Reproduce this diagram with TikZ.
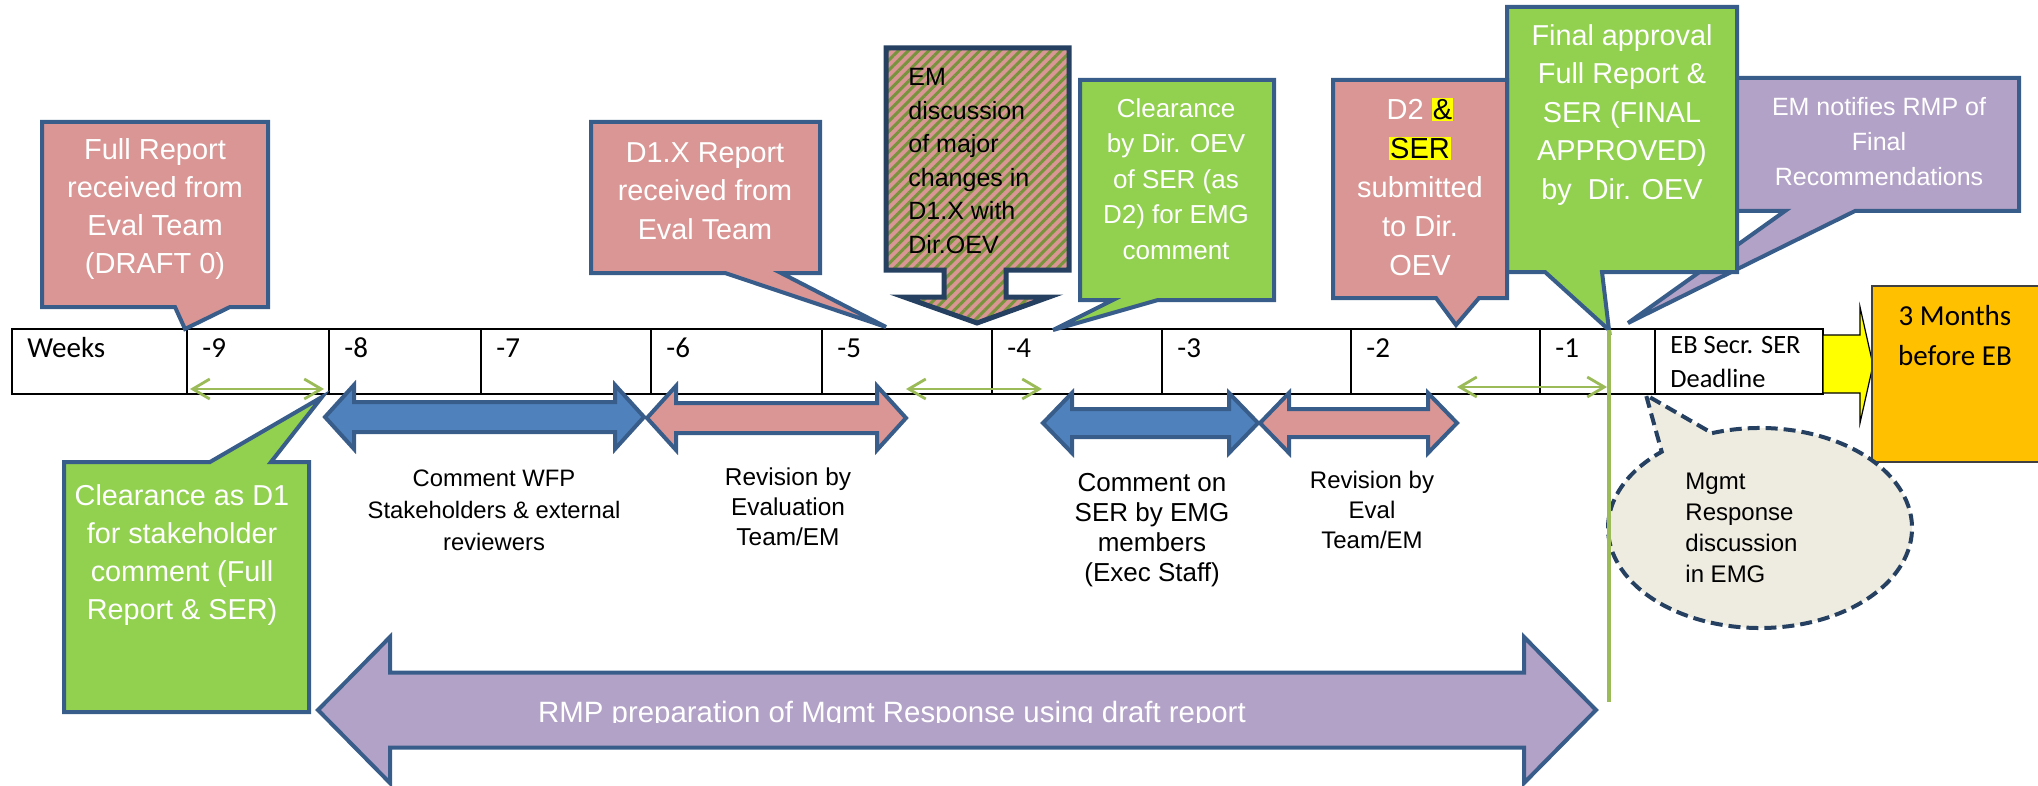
\documentclass[tikz,border=0pt]{standalone}
\usepackage{fontspec}
\setmainfont{Liberation Sans}
\newfontfamily\calibri{Carlito}
\usetikzlibrary{arrows.meta, positioning, calc, patterns.meta}

\definecolor{calloutpink}{RGB}{217,150,148}
\definecolor{calloutgreen}{RGB}{146,208,80}
\definecolor{calloutpurple}{RGB}{179,162,199}
\definecolor{shapeblue}{RGB}{79,129,189}
\definecolor{edgeblue}{RGB}{56,93,138}
\definecolor{edgenavy}{RGB}{37,64,97}
\definecolor{stripegreen}{RGB}{119,147,60}
\definecolor{spangreen}{RGB}{155,187,89}
\definecolor{noteback}{RGB}{238,236,225}
\definecolor{ebyellow}{RGB}{255,255,0}
\definecolor{eborange}{RGB}{255,192,0}

\newcommand\setfs[2]{\fontsize{#1}{#2}\selectfont}
\newcommand\hilite[1]{{\setlength\fboxsep{0.6pt}\colorbox{ebyellow}{\textcolor{black}{#1}}}}

% double headed block arrow: style, left tip, right tip, centre y, shaft half, head half, head length
\newcommand\blockarrow[7]{%
  \draw[#1] (#2,#4) -- (#2+#7,#4-#6) -- (#2+#7,#4-#5) -- (#3-#7,#4-#5)
    -- (#3-#7,#4-#6) -- (#3,#4) -- (#3-#7,#4+#6) -- (#3-#7,#4+#5)
    -- (#2+#7,#4+#5) -- (#2+#7,#4+#6) -- cycle;}

\tikzset{
  weekcell/.style={draw=black, line width=1pt, fill=white},
  celltext/.style={anchor=base west, inner sep=0pt, font=\calibri\setfs{14.5}{17}},
  callbox/.style={line width=2pt, draw=edgeblue, line join=miter},
  pinkcall/.style={callbox, fill=calloutpink},
  greencall/.style={callbox, fill=calloutgreen},
  purplecall/.style={callbox, fill=calloutpurple},
  calltext/.style={text=white, align=center, inner sep=0pt},
  blockblue/.style={line width=2pt, draw=edgeblue, fill=shapeblue},
  blockpink/.style={line width=2pt, draw=edgeblue, fill=calloutpink},
  blockpurple/.style={line width=2pt, draw=edgeblue, fill=calloutpurple},
  phaselabel/.style={align=center, inner sep=0pt},
  weekspan/.style={draw=spangreen, line width=1.4pt,
    {Straight Barb[length=8.5pt,width=10pt]}-{Straight Barb[length=8.5pt,width=10pt]}},
}

\begin{document}
\begin{tikzpicture}[x=0.5pt, y=-0.5pt]
\useasboundingbox (0,0) rectangle (2038,786);

% week row
\foreach \lab/\xa/\xb/\nm in {Weeks/12/187/wk, -9/187/329/m9, -8/329/481/m8,
    -7/481/651/m7, -6/651/822/m6, -5/822/992/m5, -4/992/1162/m4,
    -3/1162/1351/m3, -2/1351/1540/m2, -1/1540/1655/m1}{
  \draw[weekcell] (\xa,329) rectangle (\xb,394);
  \node[celltext] (\nm) at (\xa+15,357) {\lab};
}
\draw[weekcell] (1655,329) rectangle (1823,394);
\node[celltext, font=\calibri\setfs{13.2}{17}, align=left, anchor=west] (ebdl) at (1670,362) {EB Secr. SER\\Deadline};

% gaps between phases
\coordinate (gapAl) at (190,389);  \coordinate (gapAr) at (324,389);
\coordinate (gapBl) at (906,389);  \coordinate (gapBr) at (1042,389);
\coordinate (gapCl) at (1457,387); \coordinate (gapCr) at (1607,387);
\draw[weekspan] (gapAl) -- (gapAr);
\draw[weekspan] (gapBl) -- (gapBr);
\draw[weekspan] (gapCl) -- (gapCr);

% milestones above the row
\coordinate (notifytip) at (1628,323);
\draw[purplecall] (1725,78) -- (2019,78) -- (2019,211) -- (1855,211) -- (notifytip) -- (1785,211) -- (1725,211) -- cycle;
\node[calltext, font=\setfs{12.5}{17.5}] (notify) at (1879,142) {EM notifies RMP of\\Final\\Recommendations};

\coordinate (finaltip) at (1609,330);
\draw[greencall] (1507,7) -- (1737,7) -- (1737,272) -- (1602,272) -- (finaltip) -- (1545,272) -- (1507,272) -- cycle;
\node[calltext, font=\setfs{14.4}{19.25}] (final) at (1622,115) {Final approval\\Full Report \&\\SER (FINAL\\APPROVED)\\by\ \ Dir. OEV};

\coordinate (draft0tip) at (185,329);
\draw[pinkcall] (42,122) -- (268,122) -- (268,307) -- (230,307) -- (draft0tip) -- (175,307) -- (42,307) -- cycle;
\node[calltext, font=\setfs{14.5}{19}] (draft0) at (155,209) {Full Report\\received from\\Eval Team\\(DRAFT 0)};

\coordinate (d1xtip) at (886,327);
\draw[pinkcall] (591,122) -- (820,122) -- (820,273) -- (781,273) -- (d1xtip) -- (725,273) -- (591,273) -- cycle;
\node[calltext, font=\setfs{14.4}{19.25}] (d1x) at (705,191) {D1.X Report\\received from\\Eval Team};

\draw[line width=2.5pt, draw=edgenavy, preaction={fill=calloutpink},
      pattern={Lines[angle=45, distance=3.6pt, line width=1.5pt]}, pattern color=stripegreen]
  (886,48) -- (1069,48) -- (1069,270) -- (1006,270) -- (1006,297) -- (1049,297) -- (977,323)
  -- (904,297) -- (944,297) -- (944,270) -- (886,270) -- cycle;
\node[anchor=west, align=left, inner sep=0pt, font=\setfs{12.5}{16.8}] (emdisc) at (908,161) {EM\\discussion\\of major\\changes in\\D1.X with\\Dir.OEV};

\coordinate (cleartip) at (1053,330);
\draw[greencall] (1080,80) -- (1274,80) -- (1274,300) -- (1158,300) -- (cleartip) -- (1113,300) -- (1080,300) -- cycle;
\node[calltext, font=\setfs{13}{17.75}] (clear) at (1176,179) {Clearance\\by Dir. OEV\\of SER (as\\D2) for EMG\\comment};

\coordinate (d2tip) at (1456,325);
\draw[pinkcall] (1333,80) -- (1507,80) -- (1507,298) -- (1479,298) -- (d2tip) -- (1436,298) -- (1333,298) -- cycle;
\node[calltext, font=\setfs{14.5}{19.5}] (d2) at (1420,187) {D2 \hilite{\&}\\\hilite{SER}\\submitted\\to Dir.\\OEV};

% board deadline
\draw[fill=ebyellow, draw=black, line width=0.6pt] (1823,335) -- (1860,335) -- (1860,307) -- (1873,365)
  -- (1860,423) -- (1860,393) -- (1823,393) -- cycle;
\draw[fill=eborange, draw=black!75, line width=1pt] (1872,286) rectangle (2045,462);
\node[font=\calibri\setfs{14.5}{20}, align=center] (threemonths) at (1955,336) {3 Months\\before EB};

% phases below the row
\blockarrow{blockblue}{325}{644}{417}{15}{32}{29}
\blockarrow{blockpink}{647}{906}{418}{15}{32}{29}
\blockarrow{blockblue}{1043}{1258}{423}{14}{30}{29}
\blockarrow{blockpink}{1260}{1457}{423}{14}{30}{29}
\blockarrow{blockpurple}{318}{1596}{710}{37.5}{73}{72}

\node[phaselabel, font=\setfs{11.9}{16}] (wfp) at (494,510) {Comment WFP\\Stakeholders \& external\\reviewers};
\node[phaselabel, font=\setfs{12.2}{15}] (reveval) at (788,507) {Revision by\\Evaluation\\Team/EM};
\node[phaselabel, font=\setfs{13}{15}] (emgcomm) at (1152,530) {Comment on\\SER by EMG\\members\\(Exec Staff)};
\node[phaselabel, font=\setfs{12}{15}] (reveval2) at (1372,510) {Revision by\\Eval\\Team/EM};

\begin{scope}
  \clip (318,600) rectangle (1596,722);
  \node[text=white, anchor=base, inner sep=0pt, font=\setfs{14.7}{18}] (rmp) at (892,722) {RMP preparation of Mgmt Response using draft report};
\end{scope}

\coordinate (d1tip) at (322,397);
\draw[greencall] (64,462) -- (210,462) -- (d1tip) -- (271,462) -- (309,462) -- (309,712) -- (64,712) -- cycle;
\node[calltext, font=\setfs{14.4}{19}] (d1clear) at (182,555) {Clearance as D1\\for stakeholder\\comment (Full\\Report \& SER)};

% management response bubble
\coordinate (mgmtc) at (1760,528);
\coordinate (mgmttip) at (1646,395);
\draw[line width=2pt, draw=edgenavy, dash pattern=on 6pt off 3pt, fill=noteback]
  ($(mgmtc)+(251.6:152 and 100)$) arc[start angle=251.6, end angle=589.7, x radius=152, y radius=100]
  -- (mgmttip) -- cycle;
\node[anchor=west, align=left, inner sep=0pt, font=\setfs{12}{15.5}] (mgmt) at (1685,528) {Mgmt\\Response\\discussion\\in EMG};

\coordinate (lineend) at (1609,702);
\draw[spangreen, line width=2pt] (finaltip) -- (lineend);
\end{tikzpicture}
\end{document}
